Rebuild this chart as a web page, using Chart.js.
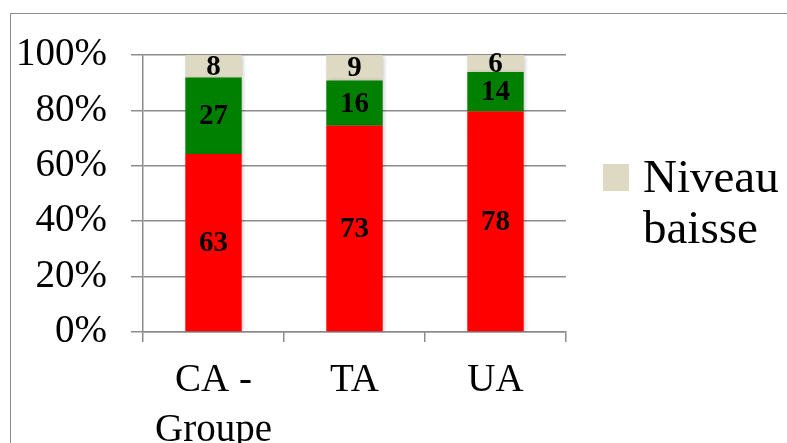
<!DOCTYPE html>
<html>
<head>
<meta charset="utf-8">
<script src="https://cdn.jsdelivr.net/npm/chart.js@4/dist/chart.umd.min.js"></script>
<style>
  html, body { margin: 0; padding: 0; background: #fff; }
  #wrap { position: relative; width: 787px; height: 443px; overflow: hidden; }
  #frame { position: absolute; left: 10px; top: 13px; width: 820px; height: 470px;
           border: 1.5px solid #8c8c8c; box-sizing: border-box; }
  canvas { position: absolute; left: 0; top: 0; }
</style>
</head>
<body>
<div id="wrap">
  <div id="frame"></div>
  <canvas id="c" width="787" height="443"></canvas>
</div>
<script>
// Categories and raw counts per series
const categories = [['CA -', 'Groupe'], 'TA', 'UA'];
const seriesLabels = ['Série 1', 'Série 2', 'Niveau baisse'];
const serie1 = [63, 73, 78];
const serie2 = [27, 16, 14];
const niveauBaisse = [8, 9, 6];
const yTicks = [0, 20, 40, 60, 80, 100];
const colors = ['#ff0000', '#008000', '#ddd9c3'];

const rawSeries = [serie1, serie2, niveauBaisse];
// 100% stacked: each column is shown as a share of its total
const totals = categories.map((_, i) => rawSeries.reduce((s, arr) => s + arr[i], 0));
const toShare = arr => arr.map((v, i) => v / totals[i] * 100);

const FONT = 'Liberation Serif';
const GRID = '#8c8c8c';

// Soft drop shadow under the bars
const barShadow = {
  id: 'barShadow',
  beforeDatasetsDraw(chart) {
    const c = chart.ctx;
    c.save();
    c.shadowColor = 'rgba(0,0,0,0.22)';
    c.shadowBlur = 4;
    c.shadowOffsetX = 1.5;
    c.shadowOffsetY = 1;
  },
  afterDatasetsDraw(chart) { chart.ctx.restore(); }
};

// Raw counts written in the middle of each segment
const valueLabels = {
  id: 'valueLabels',
  afterDatasetsDraw(chart) {
    const ctx = chart.ctx;
    ctx.save();
    ctx.font = `bold 29px "${FONT}"`;
    ctx.fillStyle = '#000';
    ctx.textAlign = 'center';
    ctx.textBaseline = 'middle';
    chart.data.datasets.forEach((ds, di) => {
      chart.getDatasetMeta(di).data.forEach((bar, i) => {
        const p = bar.getProps(['x', 'y', 'base'], true);
        ctx.fillText(String(rawSeries[di][i]), p.x, (p.y + p.base) / 2 + 1);
      });
    });
    ctx.restore();
  }
};

// Legend at the right, with the label wrapped over two lines
const sideLegend = {
  id: 'sideLegend',
  afterDraw(chart) {
    const ctx = chart.ctx, a = chart.chartArea;
    const ds = chart.data.datasets[2];
    const x0 = a.right + 37, top = a.top + 109;
    ctx.save();
    ctx.fillStyle = ds.backgroundColor;
    ctx.fillRect(x0, top, 26, 27);
    ctx.font = `47px "${FONT}"`;
    ctx.fillStyle = '#000';
    ctx.textAlign = 'left';
    ctx.textBaseline = 'alphabetic';
    ds.label.split(' ').forEach((w, k) => ctx.fillText(w, x0 + 40, a.top + 137 + k * 51));
    ctx.restore();
  }
};

new Chart(document.getElementById('c'), {
  type: 'bar',
  data: {
    labels: categories,
    datasets: rawSeries.map((arr, k) => ({
      label: seriesLabels[k],
      data: toShare(arr),
      backgroundColor: colors[k],
      borderWidth: 0,
      barPercentage: 0.4,
      categoryPercentage: 1
    }))
  },
  options: {
    responsive: false,
    animation: false,
    devicePixelRatio: 1,
    layout: { padding: { left: 0, top: 55, right: 221, bottom: 0 } },
    plugins: { legend: { display: false }, tooltip: { enabled: false } },
    scales: {
      x: {
        stacked: true,
        grid: { drawOnChartArea: false, drawTicks: true, tickLength: 10, color: GRID, lineWidth: 1.5 },
        border: { color: GRID, width: 1.5 },
        ticks: { font: { family: FONT, size: 39, lineHeight: 1.3 }, color: '#000', padding: 13,
                 maxRotation: 0, autoSkip: false },
        afterFit(s) { s.height = 111; }
      },
      y: {
        stacked: true,
        min: 0,
        max: 100,
        afterBuildTicks(s) { s.ticks = yTicks.map(v => ({ value: v })); },
        ticks: { callback: v => v + '%', font: { family: FONT, size: 39 }, color: '#000', padding: 24 },
        grid: { color: GRID, lineWidth: 1.5, tickLength: 12 },
        border: { color: GRID, width: 1.5 },
        afterFit(s) { s.width = 143; }
      }
    }
  },
  plugins: [barShadow, valueLabels, sideLegend]
});
</script>
</body>
</html>
